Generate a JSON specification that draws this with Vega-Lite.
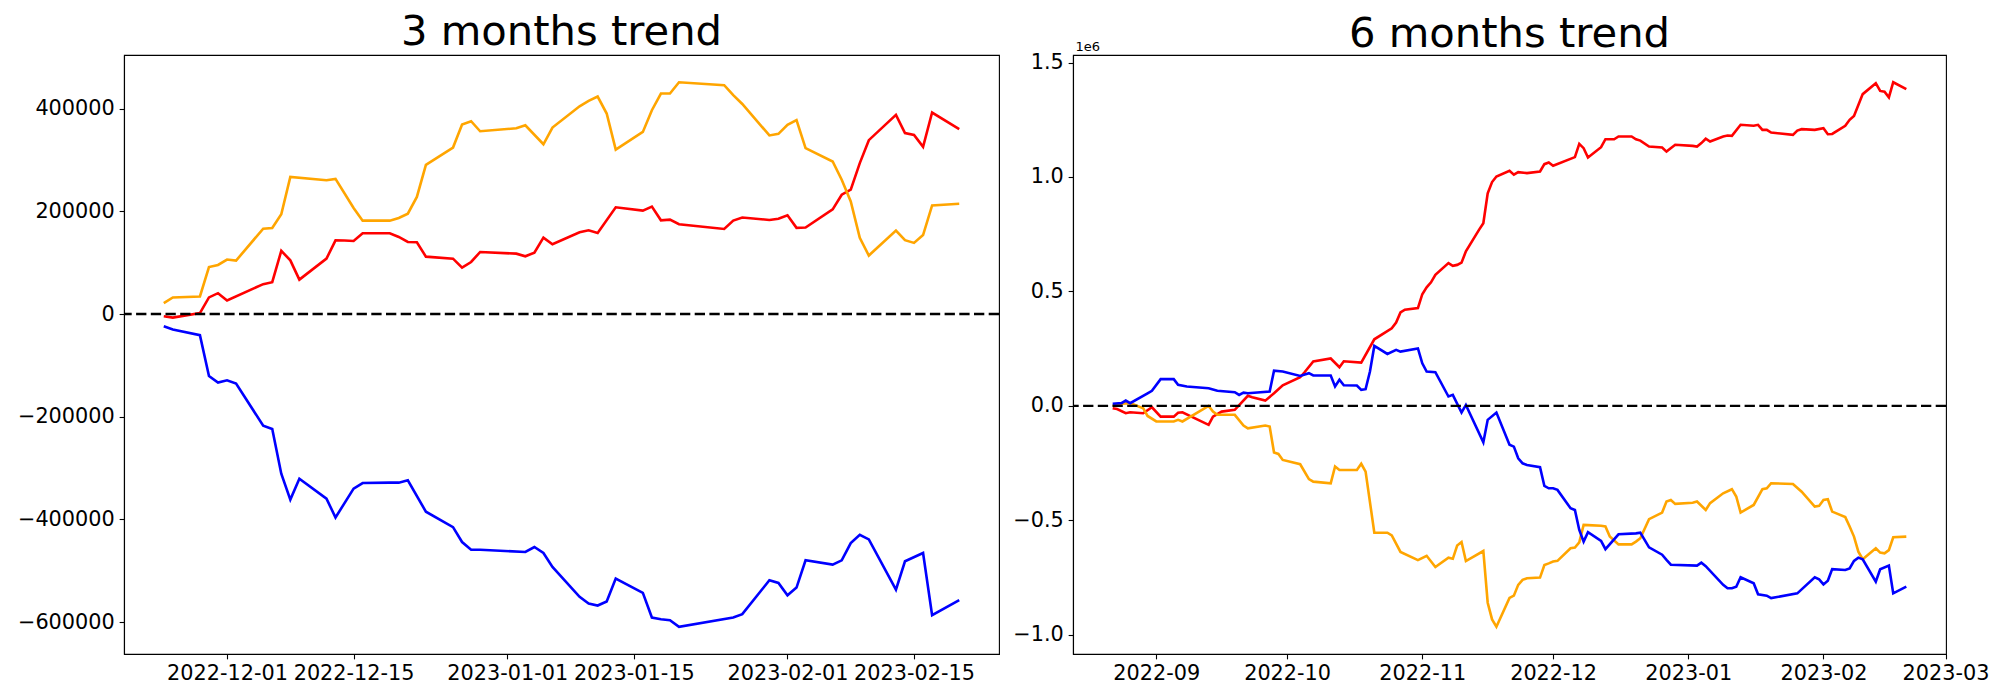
{
  "$schema": "https://vega.github.io/schema/vega-lite/v6.json",
  "background": "white",
  "padding": {"left": 16, "top": 11, "right": 10, "bottom": 8},
  "spacing": 11,
  "config": {
    "view": {"stroke": "black", "strokeWidth": 1.1},
    "axis": {
      "labelFont": "DejaVu Sans",
      "labelFontSize": 20.8,
      "labelColor": "black",
      "tickColor": "black",
      "tickSize": 4.86,
      "tickWidth": 1.1,
      "domainColor": "black",
      "domainWidth": 1.1,
      "labelPadding": 4.86,
      "grid": false,
      "labelFlush": false,
      "labelOverlap": false,
      "labelBound": false
    },
    "title": {
      "font": "DejaVu Sans",
      "fontSize": 41.7,
      "fontWeight": "normal",
      "color": "black",
      "anchor": "middle",
      "frame": "group",
      "baseline": "alphabetic"
    }
  },
  "datasets": {
    "m3": [
      {"date":"2022-11-24","series":"A","value":-4500},
      {"date":"2022-11-25","series":"A","value":-7100},
      {"date":"2022-11-28","series":"A","value":1900},
      {"date":"2022-11-29","series":"A","value":32300},
      {"date":"2022-11-30","series":"A","value":40600},
      {"date":"2022-12-01","series":"A","value":26500},
      {"date":"2022-12-05","series":"A","value":58100},
      {"date":"2022-12-06","series":"A","value":61900},
      {"date":"2022-12-07","series":"A","value":123000},
      {"date":"2022-12-08","series":"A","value":104500},
      {"date":"2022-12-09","series":"A","value":66900},
      {"date":"2022-12-12","series":"A","value":107800},
      {"date":"2022-12-13","series":"A","value":143500},
      {"date":"2022-12-14","series":"A","value":143000},
      {"date":"2022-12-15","series":"A","value":142200},
      {"date":"2022-12-16","series":"A","value":157100},
      {"date":"2022-12-19","series":"A","value":157100},
      {"date":"2022-12-20","series":"A","value":150000},
      {"date":"2022-12-21","series":"A","value":140200},
      {"date":"2022-12-22","series":"A","value":139600},
      {"date":"2022-12-23","series":"A","value":111700},
      {"date":"2022-12-26","series":"A","value":107800},
      {"date":"2022-12-27","series":"A","value":90200},
      {"date":"2022-12-28","series":"A","value":101300},
      {"date":"2022-12-29","series":"A","value":120800},
      {"date":"2023-01-02","series":"A","value":117500},
      {"date":"2023-01-03","series":"A","value":112300},
      {"date":"2023-01-04","series":"A","value":119500},
      {"date":"2023-01-05","series":"A","value":148700},
      {"date":"2023-01-06","series":"A","value":135700},
      {"date":"2023-01-09","series":"A","value":159100},
      {"date":"2023-01-10","series":"A","value":163000},
      {"date":"2023-01-11","series":"A","value":157800},
      {"date":"2023-01-13","series":"A","value":207800},
      {"date":"2023-01-16","series":"A","value":201300},
      {"date":"2023-01-17","series":"A","value":209100},
      {"date":"2023-01-18","series":"A","value":182500},
      {"date":"2023-01-19","series":"A","value":183800},
      {"date":"2023-01-20","series":"A","value":174700},
      {"date":"2023-01-25","series":"A","value":165600},
      {"date":"2023-01-26","series":"A","value":181800},
      {"date":"2023-01-27","series":"A","value":188000},
      {"date":"2023-01-30","series":"A","value":183000},
      {"date":"2023-01-31","series":"A","value":185400},
      {"date":"2023-02-01","series":"A","value":192300},
      {"date":"2023-02-02","series":"A","value":167700},
      {"date":"2023-02-03","series":"A","value":168500},
      {"date":"2023-02-06","series":"A","value":203800},
      {"date":"2023-02-07","series":"A","value":232300},
      {"date":"2023-02-08","series":"A","value":242300},
      {"date":"2023-02-09","series":"A","value":293800},
      {"date":"2023-02-10","series":"A","value":338500},
      {"date":"2023-02-13","series":"A","value":387700},
      {"date":"2023-02-14","series":"A","value":352300},
      {"date":"2023-02-15","series":"A","value":348500},
      {"date":"2023-02-16","series":"A","value":325400},
      {"date":"2023-02-17","series":"A","value":392300},
      {"date":"2023-02-20","series":"A","value":360000},

      {"date":"2022-11-24","series":"B","value":21300},
      {"date":"2022-11-25","series":"B","value":32300},
      {"date":"2022-11-28","series":"B","value":34200},
      {"date":"2022-11-29","series":"B","value":91500},
      {"date":"2022-11-30","series":"B","value":95500},
      {"date":"2022-12-01","series":"B","value":106000},
      {"date":"2022-12-02","series":"B","value":104000},
      {"date":"2022-12-05","series":"B","value":166200},
      {"date":"2022-12-06","series":"B","value":167500},
      {"date":"2022-12-07","series":"B","value":194100},
      {"date":"2022-12-08","series":"B","value":266900},
      {"date":"2022-12-12","series":"B","value":260400},
      {"date":"2022-12-13","series":"B","value":263000},
      {"date":"2022-12-15","series":"B","value":206500},
      {"date":"2022-12-16","series":"B","value":181800},
      {"date":"2022-12-19","series":"B","value":181800},
      {"date":"2022-12-20","series":"B","value":187000},
      {"date":"2022-12-21","series":"B","value":195400},
      {"date":"2022-12-22","series":"B","value":227900},
      {"date":"2022-12-23","series":"B","value":290300},
      {"date":"2022-12-26","series":"B","value":324000},
      {"date":"2022-12-27","series":"B","value":368800},
      {"date":"2022-12-28","series":"B","value":375300},
      {"date":"2022-12-29","series":"B","value":355800},
      {"date":"2023-01-02","series":"B","value":361700},
      {"date":"2023-01-03","series":"B","value":367500},
      {"date":"2023-01-05","series":"B","value":330500},
      {"date":"2023-01-06","series":"B","value":363000},
      {"date":"2023-01-09","series":"B","value":404500},
      {"date":"2023-01-10","series":"B","value":414900},
      {"date":"2023-01-11","series":"B","value":423400},
      {"date":"2023-01-12","series":"B","value":390300},
      {"date":"2023-01-13","series":"B","value":320100},
      {"date":"2023-01-16","series":"B","value":354500},
      {"date":"2023-01-17","series":"B","value":396800},
      {"date":"2023-01-18","series":"B","value":429200},
      {"date":"2023-01-19","series":"B","value":429200},
      {"date":"2023-01-20","series":"B","value":451300},
      {"date":"2023-01-25","series":"B","value":445500},
      {"date":"2023-01-26","series":"B","value":426000},
      {"date":"2023-01-27","series":"B","value":409000},
      {"date":"2023-01-30","series":"B","value":347700},
      {"date":"2023-01-31","series":"B","value":350800},
      {"date":"2023-02-01","series":"B","value":368500},
      {"date":"2023-02-02","series":"B","value":377700},
      {"date":"2023-02-03","series":"B","value":323100},
      {"date":"2023-02-06","series":"B","value":296900},
      {"date":"2023-02-07","series":"B","value":261500},
      {"date":"2023-02-08","series":"B","value":219200},
      {"date":"2023-02-09","series":"B","value":148500},
      {"date":"2023-02-10","series":"B","value":113800},
      {"date":"2023-02-13","series":"B","value":162300},
      {"date":"2023-02-14","series":"B","value":143800},
      {"date":"2023-02-15","series":"B","value":138500},
      {"date":"2023-02-16","series":"B","value":153800},
      {"date":"2023-02-17","series":"B","value":211500},
      {"date":"2023-02-20","series":"B","value":214600},

      {"date":"2022-11-24","series":"C","value":-23900},
      {"date":"2022-11-25","series":"C","value":-30300},
      {"date":"2022-11-28","series":"C","value":-41300},
      {"date":"2022-11-29","series":"C","value":-120700},
      {"date":"2022-11-30","series":"C","value":-133600},
      {"date":"2022-12-01","series":"C","value":-129000},
      {"date":"2022-12-02","series":"C","value":-135500},
      {"date":"2022-12-05","series":"C","value":-217400},
      {"date":"2022-12-06","series":"C","value":-223900},
      {"date":"2022-12-07","series":"C","value":-311000},
      {"date":"2022-12-08","series":"C","value":-361300},
      {"date":"2022-12-09","series":"C","value":-320700},
      {"date":"2022-12-12","series":"C","value":-359400},
      {"date":"2022-12-13","series":"C","value":-396200},
      {"date":"2022-12-15","series":"C","value":-340000},
      {"date":"2022-12-16","series":"C","value":-329100},
      {"date":"2022-12-19","series":"C","value":-328400},
      {"date":"2022-12-20","series":"C","value":-328400},
      {"date":"2022-12-21","series":"C","value":-323900},
      {"date":"2022-12-23","series":"C","value":-385000},
      {"date":"2022-12-26","series":"C","value":-414900},
      {"date":"2022-12-27","series":"C","value":-444000},
      {"date":"2022-12-28","series":"C","value":-458900},
      {"date":"2022-12-29","series":"C","value":-458900},
      {"date":"2023-01-03","series":"C","value":-463400},
      {"date":"2023-01-04","series":"C","value":-453700},
      {"date":"2023-01-05","series":"C","value":-465400},
      {"date":"2023-01-06","series":"C","value":-492500},
      {"date":"2023-01-09","series":"C","value":-550800},
      {"date":"2023-01-10","series":"C","value":-563700},
      {"date":"2023-01-11","series":"C","value":-567600},
      {"date":"2023-01-12","series":"C","value":-559900},
      {"date":"2023-01-13","series":"C","value":-515200},
      {"date":"2023-01-16","series":"C","value":-543000},
      {"date":"2023-01-17","series":"C","value":-590900},
      {"date":"2023-01-18","series":"C","value":-594200},
      {"date":"2023-01-19","series":"C","value":-596100},
      {"date":"2023-01-20","series":"C","value":-609000},
      {"date":"2023-01-26","series":"C","value":-590900},
      {"date":"2023-01-27","series":"C","value":-584400},
      {"date":"2023-01-30","series":"C","value":-518400},
      {"date":"2023-01-31","series":"C","value":-523600},
      {"date":"2023-02-01","series":"C","value":-547600},
      {"date":"2023-02-02","series":"C","value":-532700},
      {"date":"2023-02-03","series":"C","value":-479600},
      {"date":"2023-02-06","series":"C","value":-488000},
      {"date":"2023-02-07","series":"C","value":-479600},
      {"date":"2023-02-08","series":"C","value":-446000},
      {"date":"2023-02-09","series":"C","value":-429800},
      {"date":"2023-02-10","series":"C","value":-438800},
      {"date":"2023-02-13","series":"C","value":-536600},
      {"date":"2023-02-14","series":"C","value":-481500},
      {"date":"2023-02-16","series":"C","value":-465400},
      {"date":"2023-02-17","series":"C","value":-586400},
      {"date":"2023-02-20","series":"C","value":-557300}
    ],
    "m6": [
      {"date":"2022-08-22","series":"A","value":-10000},
      {"date":"2022-08-23","series":"A","value":-14000},
      {"date":"2022-08-25","series":"A","value":-32000},
      {"date":"2022-08-26","series":"A","value":-28000},
      {"date":"2022-08-29","series":"A","value":-32000},
      {"date":"2022-08-31","series":"A","value":-6000},
      {"date":"2022-09-02","series":"A","value":-47000},
      {"date":"2022-09-05","series":"A","value":-47000},
      {"date":"2022-09-06","series":"A","value":-30000},
      {"date":"2022-09-07","series":"A","value":-28000},
      {"date":"2022-09-13","series":"A","value":-83000},
      {"date":"2022-09-14","series":"A","value":-47000},
      {"date":"2022-09-16","series":"A","value":-25000},
      {"date":"2022-09-19","series":"A","value":-17000},
      {"date":"2022-09-22","series":"A","value":44000},
      {"date":"2022-09-23","series":"A","value":38000},
      {"date":"2022-09-26","series":"A","value":23000},
      {"date":"2022-09-28","series":"A","value":55000},
      {"date":"2022-09-30","series":"A","value":90000},
      {"date":"2022-10-04","series":"A","value":125000},
      {"date":"2022-10-05","series":"A","value":147000},
      {"date":"2022-10-07","series":"A","value":194000},
      {"date":"2022-10-11","series":"A","value":207000},
      {"date":"2022-10-13","series":"A","value":169000},
      {"date":"2022-10-14","series":"A","value":195000},
      {"date":"2022-10-18","series":"A","value":189000},
      {"date":"2022-10-21","series":"A","value":291000},
      {"date":"2022-10-25","series":"A","value":339000},
      {"date":"2022-10-26","series":"A","value":364000},
      {"date":"2022-10-27","series":"A","value":408000},
      {"date":"2022-10-28","series":"A","value":420000},
      {"date":"2022-10-31","series":"A","value":427000},
      {"date":"2022-11-01","series":"A","value":488000},
      {"date":"2022-11-02","series":"A","value":518000},
      {"date":"2022-11-03","series":"A","value":540000},
      {"date":"2022-11-04","series":"A","value":573000},
      {"date":"2022-11-07","series":"A","value":624000},
      {"date":"2022-11-08","series":"A","value":612000},
      {"date":"2022-11-09","series":"A","value":616000},
      {"date":"2022-11-10","series":"A","value":626000},
      {"date":"2022-11-11","series":"A","value":675000},
      {"date":"2022-11-14","series":"A","value":769000},
      {"date":"2022-11-15","series":"A","value":798000},
      {"date":"2022-11-16","series":"A","value":929000},
      {"date":"2022-11-17","series":"A","value":978000},
      {"date":"2022-11-18","series":"A","value":1002000},
      {"date":"2022-11-21","series":"A","value":1027000},
      {"date":"2022-11-22","series":"A","value":1010000},
      {"date":"2022-11-23","series":"A","value":1021000},
      {"date":"2022-11-25","series":"A","value":1017000},
      {"date":"2022-11-28","series":"A","value":1024000},
      {"date":"2022-11-29","series":"A","value":1056000},
      {"date":"2022-11-30","series":"A","value":1063000},
      {"date":"2022-12-01","series":"A","value":1049000},
      {"date":"2022-12-06","series":"A","value":1087000},
      {"date":"2022-12-07","series":"A","value":1145000},
      {"date":"2022-12-08","series":"A","value":1126000},
      {"date":"2022-12-09","series":"A","value":1085000},
      {"date":"2022-12-12","series":"A","value":1130000},
      {"date":"2022-12-13","series":"A","value":1165000},
      {"date":"2022-12-15","series":"A","value":1165000},
      {"date":"2022-12-16","series":"A","value":1177000},
      {"date":"2022-12-19","series":"A","value":1177000},
      {"date":"2022-12-20","series":"A","value":1165000},
      {"date":"2022-12-21","series":"A","value":1159000},
      {"date":"2022-12-23","series":"A","value":1133000},
      {"date":"2022-12-26","series":"A","value":1129000},
      {"date":"2022-12-27","series":"A","value":1111000},
      {"date":"2022-12-29","series":"A","value":1141000},
      {"date":"2023-01-02","series":"A","value":1136000},
      {"date":"2023-01-03","series":"A","value":1133000},
      {"date":"2023-01-04","series":"A","value":1148000},
      {"date":"2023-01-05","series":"A","value":1167000},
      {"date":"2023-01-06","series":"A","value":1155000},
      {"date":"2023-01-09","series":"A","value":1177000},
      {"date":"2023-01-10","series":"A","value":1181000},
      {"date":"2023-01-11","series":"A","value":1180000},
      {"date":"2023-01-13","series":"A","value":1228000},
      {"date":"2023-01-16","series":"A","value":1224000},
      {"date":"2023-01-17","series":"A","value":1228000},
      {"date":"2023-01-18","series":"A","value":1206000},
      {"date":"2023-01-19","series":"A","value":1206000},
      {"date":"2023-01-20","series":"A","value":1194000},
      {"date":"2023-01-25","series":"A","value":1184000},
      {"date":"2023-01-26","series":"A","value":1203000},
      {"date":"2023-01-27","series":"A","value":1209000},
      {"date":"2023-01-30","series":"A","value":1206000},
      {"date":"2023-02-01","series":"A","value":1213000},
      {"date":"2023-02-02","series":"A","value":1187000},
      {"date":"2023-02-03","series":"A","value":1188000},
      {"date":"2023-02-06","series":"A","value":1224000},
      {"date":"2023-02-07","series":"A","value":1250000},
      {"date":"2023-02-08","series":"A","value":1267000},
      {"date":"2023-02-10","series":"A","value":1362000},
      {"date":"2023-02-13","series":"A","value":1410000},
      {"date":"2023-02-14","series":"A","value":1376000},
      {"date":"2023-02-15","series":"A","value":1373000},
      {"date":"2023-02-16","series":"A","value":1348000},
      {"date":"2023-02-17","series":"A","value":1414000},
      {"date":"2023-02-20","series":"A","value":1384000},

      {"date":"2022-08-22","series":"B","value":0},
      {"date":"2022-08-24","series":"B","value":9000},
      {"date":"2022-08-26","series":"B","value":12000},
      {"date":"2022-08-29","series":"B","value":-10000},
      {"date":"2022-08-30","series":"B","value":-44000},
      {"date":"2022-09-01","series":"B","value":-68000},
      {"date":"2022-09-05","series":"B","value":-68000},
      {"date":"2022-09-06","series":"B","value":-61000},
      {"date":"2022-09-07","series":"B","value":-68000},
      {"date":"2022-09-13","series":"B","value":0},
      {"date":"2022-09-14","series":"B","value":-25000},
      {"date":"2022-09-15","series":"B","value":-39000},
      {"date":"2022-09-19","series":"B","value":-39000},
      {"date":"2022-09-21","series":"B","value":-86000},
      {"date":"2022-09-22","series":"B","value":-98000},
      {"date":"2022-09-26","series":"B","value":-86000},
      {"date":"2022-09-27","series":"B","value":-90000},
      {"date":"2022-09-28","series":"B","value":-204000},
      {"date":"2022-09-29","series":"B","value":-210000},
      {"date":"2022-09-30","series":"B","value":-236000},
      {"date":"2022-10-04","series":"B","value":-255000},
      {"date":"2022-10-06","series":"B","value":-320000},
      {"date":"2022-10-07","series":"B","value":-331000},
      {"date":"2022-10-11","series":"B","value":-338000},
      {"date":"2022-10-12","series":"B","value":-265000},
      {"date":"2022-10-13","series":"B","value":-280000},
      {"date":"2022-10-17","series":"B","value":-280000},
      {"date":"2022-10-18","series":"B","value":-253000},
      {"date":"2022-10-19","series":"B","value":-287000},
      {"date":"2022-10-21","series":"B","value":-554000},
      {"date":"2022-10-24","series":"B","value":-554000},
      {"date":"2022-10-25","series":"B","value":-566000},
      {"date":"2022-10-27","series":"B","value":-638000},
      {"date":"2022-10-31","series":"B","value":-674000},
      {"date":"2022-11-02","series":"B","value":-655000},
      {"date":"2022-11-04","series":"B","value":-704000},
      {"date":"2022-11-07","series":"B","value":-663000},
      {"date":"2022-11-08","series":"B","value":-668000},
      {"date":"2022-11-09","series":"B","value":-610000},
      {"date":"2022-11-10","series":"B","value":-595000},
      {"date":"2022-11-11","series":"B","value":-678000},
      {"date":"2022-11-15","series":"B","value":-634000},
      {"date":"2022-11-16","series":"B","value":-860000},
      {"date":"2022-11-17","series":"B","value":-933000},
      {"date":"2022-11-18","series":"B","value":-965000},
      {"date":"2022-11-21","series":"B","value":-839000},
      {"date":"2022-11-22","series":"B","value":-829000},
      {"date":"2022-11-23","series":"B","value":-782000},
      {"date":"2022-11-24","series":"B","value":-760000},
      {"date":"2022-11-25","series":"B","value":-753000},
      {"date":"2022-11-28","series":"B","value":-750000},
      {"date":"2022-11-29","series":"B","value":-695000},
      {"date":"2022-11-30","series":"B","value":-688000},
      {"date":"2022-12-01","series":"B","value":-680000},
      {"date":"2022-12-02","series":"B","value":-677000},
      {"date":"2022-12-05","series":"B","value":-622000},
      {"date":"2022-12-06","series":"B","value":-619000},
      {"date":"2022-12-07","series":"B","value":-596000},
      {"date":"2022-12-08","series":"B","value":-520000},
      {"date":"2022-12-09","series":"B","value":-521000},
      {"date":"2022-12-12","series":"B","value":-524000},
      {"date":"2022-12-13","series":"B","value":-527000},
      {"date":"2022-12-14","series":"B","value":-571000},
      {"date":"2022-12-16","series":"B","value":-605000},
      {"date":"2022-12-19","series":"B","value":-605000},
      {"date":"2022-12-20","series":"B","value":-593000},
      {"date":"2022-12-21","series":"B","value":-578000},
      {"date":"2022-12-23","series":"B","value":-495000},
      {"date":"2022-12-26","series":"B","value":-466000},
      {"date":"2022-12-27","series":"B","value":-418000},
      {"date":"2022-12-28","series":"B","value":-411000},
      {"date":"2022-12-29","series":"B","value":-428000},
      {"date":"2023-01-02","series":"B","value":-423000},
      {"date":"2023-01-03","series":"B","value":-418000},
      {"date":"2023-01-05","series":"B","value":-455000},
      {"date":"2023-01-06","series":"B","value":-425000},
      {"date":"2023-01-09","series":"B","value":-382000},
      {"date":"2023-01-11","series":"B","value":-364000},
      {"date":"2023-01-12","series":"B","value":-396000},
      {"date":"2023-01-13","series":"B","value":-466000},
      {"date":"2023-01-16","series":"B","value":-433000},
      {"date":"2023-01-18","series":"B","value":-364000},
      {"date":"2023-01-19","series":"B","value":-360000},
      {"date":"2023-01-20","series":"B","value":-338000},
      {"date":"2023-01-25","series":"B","value":-341000},
      {"date":"2023-01-27","series":"B","value":-375000},
      {"date":"2023-01-30","series":"B","value":-440000},
      {"date":"2023-01-31","series":"B","value":-437000},
      {"date":"2023-02-01","series":"B","value":-411000},
      {"date":"2023-02-02","series":"B","value":-408000},
      {"date":"2023-02-03","series":"B","value":-462000},
      {"date":"2023-02-06","series":"B","value":-486000},
      {"date":"2023-02-07","series":"B","value":-527000},
      {"date":"2023-02-08","series":"B","value":-571000},
      {"date":"2023-02-09","series":"B","value":-637000},
      {"date":"2023-02-10","series":"B","value":-670000},
      {"date":"2023-02-13","series":"B","value":-622000},
      {"date":"2023-02-14","series":"B","value":-641000},
      {"date":"2023-02-15","series":"B","value":-644000},
      {"date":"2023-02-16","series":"B","value":-630000},
      {"date":"2023-02-17","series":"B","value":-574000},
      {"date":"2023-02-20","series":"B","value":-571000},

      {"date":"2022-08-22","series":"C","value":9000},
      {"date":"2022-08-24","series":"C","value":12000},
      {"date":"2022-08-25","series":"C","value":23000},
      {"date":"2022-08-26","series":"C","value":12000},
      {"date":"2022-08-30","series":"C","value":55000},
      {"date":"2022-08-31","series":"C","value":66000},
      {"date":"2022-09-02","series":"C","value":117000},
      {"date":"2022-09-05","series":"C","value":117000},
      {"date":"2022-09-06","series":"C","value":92000},
      {"date":"2022-09-08","series":"C","value":85000},
      {"date":"2022-09-13","series":"C","value":77000},
      {"date":"2022-09-15","series":"C","value":66000},
      {"date":"2022-09-19","series":"C","value":60000},
      {"date":"2022-09-20","series":"C","value":48000},
      {"date":"2022-09-21","series":"C","value":58000},
      {"date":"2022-09-22","series":"C","value":55000},
      {"date":"2022-09-27","series":"C","value":63000},
      {"date":"2022-09-28","series":"C","value":154000},
      {"date":"2022-09-30","series":"C","value":150000},
      {"date":"2022-10-04","series":"C","value":131000},
      {"date":"2022-10-06","series":"C","value":143000},
      {"date":"2022-10-07","series":"C","value":133000},
      {"date":"2022-10-11","series":"C","value":133000},
      {"date":"2022-10-12","series":"C","value":85000},
      {"date":"2022-10-13","series":"C","value":114000},
      {"date":"2022-10-14","series":"C","value":90000},
      {"date":"2022-10-17","series":"C","value":89000},
      {"date":"2022-10-18","series":"C","value":70000},
      {"date":"2022-10-19","series":"C","value":73000},
      {"date":"2022-10-20","series":"C","value":150000},
      {"date":"2022-10-21","series":"C","value":262000},
      {"date":"2022-10-24","series":"C","value":227000},
      {"date":"2022-10-26","series":"C","value":245000},
      {"date":"2022-10-27","series":"C","value":237000},
      {"date":"2022-10-31","series":"C","value":251000},
      {"date":"2022-11-01","series":"C","value":186000},
      {"date":"2022-11-02","series":"C","value":150000},
      {"date":"2022-11-04","series":"C","value":147000},
      {"date":"2022-11-07","series":"C","value":41000},
      {"date":"2022-11-08","series":"C","value":48000},
      {"date":"2022-11-10","series":"C","value":-29000},
      {"date":"2022-11-11","series":"C","value":4000},
      {"date":"2022-11-15","series":"C","value":-159000},
      {"date":"2022-11-16","series":"C","value":-61000},
      {"date":"2022-11-18","series":"C","value":-29000},
      {"date":"2022-11-21","series":"C","value":-170000},
      {"date":"2022-11-22","series":"C","value":-178000},
      {"date":"2022-11-23","series":"C","value":-229000},
      {"date":"2022-11-24","series":"C","value":-251000},
      {"date":"2022-11-25","series":"C","value":-258000},
      {"date":"2022-11-28","series":"C","value":-268000},
      {"date":"2022-11-29","series":"C","value":-350000},
      {"date":"2022-11-30","series":"C","value":-360000},
      {"date":"2022-12-01","series":"C","value":-360000},
      {"date":"2022-12-02","series":"C","value":-367000},
      {"date":"2022-12-05","series":"C","value":-447000},
      {"date":"2022-12-06","series":"C","value":-455000},
      {"date":"2022-12-07","series":"C","value":-542000},
      {"date":"2022-12-08","series":"C","value":-593000},
      {"date":"2022-12-09","series":"C","value":-552000},
      {"date":"2022-12-12","series":"C","value":-590000},
      {"date":"2022-12-13","series":"C","value":-626000},
      {"date":"2022-12-16","series":"C","value":-561000},
      {"date":"2022-12-20","series":"C","value":-557000},
      {"date":"2022-12-21","series":"C","value":-554000},
      {"date":"2022-12-23","series":"C","value":-618000},
      {"date":"2022-12-26","series":"C","value":-650000},
      {"date":"2022-12-27","series":"C","value":-673000},
      {"date":"2022-12-28","series":"C","value":-694000},
      {"date":"2023-01-03","series":"C","value":-698000},
      {"date":"2023-01-04","series":"C","value":-685000},
      {"date":"2023-01-05","series":"C","value":-700000},
      {"date":"2023-01-09","series":"C","value":-782000},
      {"date":"2023-01-10","series":"C","value":-797000},
      {"date":"2023-01-11","series":"C","value":-797000},
      {"date":"2023-01-12","series":"C","value":-790000},
      {"date":"2023-01-13","series":"C","value":-749000},
      {"date":"2023-01-16","series":"C","value":-775000},
      {"date":"2023-01-17","series":"C","value":-823000},
      {"date":"2023-01-19","series":"C","value":-829000},
      {"date":"2023-01-20","series":"C","value":-840000},
      {"date":"2023-01-26","series":"C","value":-819000},
      {"date":"2023-01-30","series":"C","value":-749000},
      {"date":"2023-01-31","series":"C","value":-758000},
      {"date":"2023-02-01","series":"C","value":-780000},
      {"date":"2023-02-02","series":"C","value":-764000},
      {"date":"2023-02-03","series":"C","value":-713000},
      {"date":"2023-02-06","series":"C","value":-717000},
      {"date":"2023-02-07","series":"C","value":-710000},
      {"date":"2023-02-08","series":"C","value":-677000},
      {"date":"2023-02-09","series":"C","value":-663000},
      {"date":"2023-02-10","series":"C","value":-670000},
      {"date":"2023-02-13","series":"C","value":-768000},
      {"date":"2023-02-14","series":"C","value":-714000},
      {"date":"2023-02-16","series":"C","value":-698000},
      {"date":"2023-02-17","series":"C","value":-819000},
      {"date":"2023-02-20","series":"C","value":-790000}
    ]
  },
  "hconcat": [
    {
      "width": 875,
      "height": 599,
      "title": {"text": "3 months trend", "offset": 1},
      "layer": [
        {
          "data": {"name": "m3"},
          "mark": {"type": "line", "strokeWidth": 2.6, "clip": true},
          "encoding": {
            "x": {
              "field": "date", "type": "temporal",
              "scale": {"type": "utc", "nice": false, "domain": [
                {"year": 2022, "month": 11, "date": 19, "hours": 14, "minutes": 24, "utc": true},
                {"year": 2023, "month": 2, "date": 24, "hours": 9, "minutes": 36, "utc": true}
              ]},
              "axis": {
                "title": null, "format": "%Y-%m-%d",
                "values": [
                  {"year": 2022, "month": 12, "date": 1, "utc": true},
                  {"year": 2022, "month": 12, "date": 15, "utc": true},
                  {"year": 2023, "month": 1, "date": 1, "utc": true},
                  {"year": 2023, "month": 1, "date": 15, "utc": true},
                  {"year": 2023, "month": 2, "date": 1, "utc": true},
                  {"year": 2023, "month": 2, "date": 15, "utc": true}
                ]
              }
            },
            "y": {
              "field": "value", "type": "quantitative",
              "scale": {"domain": [-662000, 504300], "nice": false, "zero": false},
              "axis": {"title": null, "format": "d", "values": [-600000, -400000, -200000, 0, 200000, 400000]}
            },
            "color": {
              "field": "series", "type": "nominal",
              "scale": {"domain": ["A", "B", "C"], "range": ["#ff0000", "#ffa500", "#0000ff"]},
              "legend": null
            }
          }
        },
        {
          "data": {"values": [{}]},
          "mark": {"type": "rule", "color": "black", "strokeWidth": 2.3, "strokeDash": [10.3, 4.4]},
          "encoding": {"y": {"datum": 0}}
        }
      ]
    },
    {
      "width": 873,
      "height": 599,
      "title": {"text": "6 months trend", "offset": -14.7},
      "layer": [
        {
          "data": {"name": "m6"},
          "mark": {"type": "line", "strokeWidth": 2.6, "clip": true},
          "encoding": {
            "x": {
              "field": "date", "type": "temporal",
              "scale": {"type": "utc", "nice": false, "domain": [
                {"year": 2022, "month": 8, "date": 12, "hours": 21, "minutes": 36, "utc": true},
                {"year": 2023, "month": 3, "date": 1, "hours": 2, "minutes": 24, "utc": true}
              ]},
              "axis": {
                "title": null, "format": "%Y-%m",
                "values": [
                  {"year": 2022, "month": 9, "date": 1, "utc": true},
                  {"year": 2022, "month": 10, "date": 1, "utc": true},
                  {"year": 2022, "month": 11, "date": 1, "utc": true},
                  {"year": 2022, "month": 12, "date": 1, "utc": true},
                  {"year": 2023, "month": 1, "date": 1, "utc": true},
                  {"year": 2023, "month": 2, "date": 1, "utc": true},
                  {"year": 2023, "month": 3, "date": 1, "utc": true}
                ]
              }
            },
            "y": {
              "field": "value", "type": "quantitative",
              "scale": {"domain": [-1084000, 1533000], "nice": false, "zero": false},
              "axis": {
                "values": [-1000000, -500000, 0, 500000, 1000000, 1500000],
                "labelExpr": "format(datum.value / 1000000, '.1f')",
                "title": "1e6",
                "titleFont": "DejaVu Sans",
                "titleFontSize": 13,
                "titleFontWeight": "normal",
                "titleColor": "black",
                "titleAngle": 0,
                "titleAlign": "left",
                "titleBaseline": "alphabetic",
                "titleX": 2,
                "titleY": -4.5
              }
            },
            "color": {
              "field": "series", "type": "nominal",
              "scale": {"domain": ["A", "B", "C"], "range": ["#ff0000", "#ffa500", "#0000ff"]},
              "legend": null
            }
          }
        },
        {
          "data": {"values": [{}]},
          "mark": {"type": "rule", "color": "black", "strokeWidth": 2.3, "strokeDash": [10.3, 4.4]},
          "encoding": {"y": {"datum": 0}}
        }
      ]
    }
  ],
  "resolve": {"scale": {"x": "independent", "y": "independent", "color": "shared"}}
}
